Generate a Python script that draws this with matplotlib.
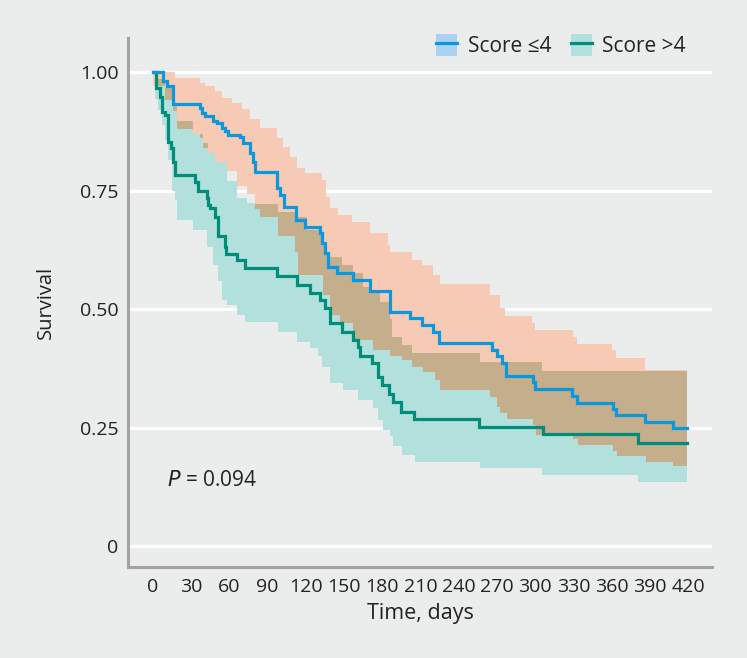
import numpy as np
import matplotlib
matplotlib.use("Agg")
import matplotlib.pyplot as plt
from matplotlib.patches import Patch
from matplotlib.lines import Line2D

plt.rcParams['font.family'] = ['Open Sans', 'DejaVu Sans']

# ---------------- data ----------------
end_time = 419

# Score <=4 : Kaplan-Meier estimate
le4_t = [0, 8.1, 10.8, 16, 37, 38.5, 41, 47, 50, 54, 56.5, 59, 68.3, 71, 76, 78.5, 80, 97, 100, 103,
         112, 119, 131, 133, 135, 137, 144.5, 157, 170, 186, 201.6, 211, 220, 224.5, 266, 270, 274, 277, 298, 300,
         329, 333, 361, 363.5, 386, 408]
le4_s = [1.0, 0.98, 0.97, 0.933, 0.925, 0.914, 0.907, 0.897, 0.892, 0.882, 0.876, 0.868, 0.862, 0.851, 0.83, 0.81, 0.789, 0.755, 0.74, 0.716,
         0.688, 0.673, 0.660, 0.639, 0.618, 0.589, 0.575, 0.561, 0.537, 0.494, 0.480, 0.466, 0.452, 0.428, 0.413, 0.40, 0.386, 0.359, 0.345, 0.331,
         0.316, 0.302, 0.289, 0.276, 0.262, 0.248]
# Score <=4 : upper CI
le4_hi_t = [0, 17, 37, 41, 49, 54, 62, 70, 76, 84, 97, 102, 107.5, 113, 119, 132.6, 136, 139, 145, 156,
            170, 184.5, 186, 203, 211, 220, 225, 264.5, 272, 276, 297.5, 300, 329.4, 333, 360, 363.5, 386]
le4_hi = [1.0, 0.988, 0.977, 0.97, 0.96, 0.946, 0.935, 0.922, 0.90, 0.882, 0.861, 0.842, 0.82, 0.797, 0.787, 0.772, 0.736, 0.713, 0.698, 0.684,
          0.660, 0.635, 0.621, 0.603, 0.593, 0.572, 0.553, 0.53, 0.502, 0.485, 0.47, 0.456, 0.442, 0.426, 0.414, 0.396, 0.371]
# Score <=4 : lower CI
le4_lo_t = [0, 9.4, 16, 19, 31.4, 37, 39, 43, 49, 58, 66, 74, 80, 84, 98, 111.5, 114, 133.5, 139, 147,
            157, 173, 186, 195.5, 203, 212, 221, 225, 264.5, 270, 272, 278, 298, 301, 329.5, 333.5, 361, 364, 387, 408]
le4_lo = [0.97, 0.94, 0.918, 0.88, 0.87, 0.861, 0.84, 0.83, 0.81, 0.791, 0.76, 0.743, 0.71, 0.695, 0.653, 0.621, 0.572, 0.53, 0.487, 0.47,
          0.435, 0.414, 0.40, 0.392, 0.378, 0.367, 0.35, 0.329, 0.314, 0.293, 0.28, 0.267, 0.255, 0.234, 0.225, 0.213, 0.20, 0.19, 0.177, 0.169]

# Score >4 : Kaplan-Meier estimate
gt4_t = [0, 2.5, 5.5, 7, 9.4, 11.8, 14, 15.5, 17.3, 33, 35.3, 42.4, 43.2, 45, 48.7, 51, 56.5, 57.5, 66, 72,
         97, 113, 123, 131, 135, 139, 148, 157, 161, 162.5, 172, 176.6, 180, 185, 188, 195, 205, 256, 306, 381]
gt4_s = [1.0, 0.966, 0.948, 0.916, 0.91, 0.853, 0.84, 0.81, 0.783, 0.769, 0.749, 0.735, 0.72, 0.714, 0.695, 0.653, 0.631, 0.617, 0.603, 0.586,
         0.569, 0.551, 0.534, 0.518, 0.502, 0.470, 0.452, 0.435, 0.420, 0.400, 0.386, 0.357, 0.34, 0.32, 0.304, 0.283, 0.268, 0.252, 0.236, 0.218]
# Score >4 : upper CI
gt4_hi_t = [0, 4, 9.4, 16, 19, 31.4, 37, 39, 43, 49, 58, 66, 74, 80, 98, 111.5, 121, 132.6, 136.6, 148.4,
            157, 165, 170, 178, 186, 187.6, 195.5, 203, 256.7, 305]
gt4_hi = [1.0, 0.985, 0.966, 0.928, 0.897, 0.87, 0.869, 0.85, 0.83, 0.81, 0.77, 0.734, 0.724, 0.721, 0.705, 0.695, 0.667, 0.642, 0.61, 0.593,
          0.575, 0.547, 0.534, 0.515, 0.479, 0.442, 0.424, 0.407, 0.388, 0.37]
# Score >4 : lower CI
gt4_lo_t = [0, 1.6, 4, 7, 9.4, 12, 15, 17, 19, 31.4, 42.4, 47, 51, 54, 58, 66, 72, 98, 113, 123,
            129.5, 132.6, 139, 149, 161, 172.7, 176.6, 180.5, 186, 188.4, 195.5, 205.7, 256.7, 305, 380.7]
gt4_lo = [1.0, 0.943, 0.92, 0.888, 0.857, 0.814, 0.75, 0.73, 0.688, 0.667, 0.631, 0.593, 0.56, 0.52, 0.508, 0.487, 0.473, 0.452, 0.431, 0.417,
          0.40, 0.378, 0.344, 0.329, 0.308, 0.291, 0.266, 0.245, 0.232, 0.21, 0.192, 0.178, 0.164, 0.15, 0.136]

x_ticks = list(range(0, 421, 30))
y_ticks = [0, 0.25, 0.5, 0.75, 1.0]
y_tick_labels = ["0", "0.25", "0.50", "0.75", "1.00"]
legend_labels = ["Score \u22644", "Score >4"]
p_text = "0.094"

# ---------------- styling ----------------
bg = "#ebecec"
blue = "#0b98dd"
teal = "#008e7a"
orange_fill = "#f6cab4"
teal_fill = "#b2e0dd"
brown_fill = "#c5ae8b"
blue_patch = "#aad3f2"
spine_col = "#a3a3a3"
txt = "#222222"


def step_eval(t, v, grid):
    t = np.asarray(t, float)
    v = np.asarray(v, float)
    idx = np.searchsorted(t, grid, side="right") - 1
    idx = np.clip(idx, 0, len(v) - 1)
    return v[idx]


grid = np.unique(np.concatenate([le4_t, le4_hi_t, le4_lo_t, gt4_t, gt4_hi_t, gt4_lo_t, [end_time]]))
grid = grid[grid <= end_time]

a_lo = step_eval(le4_lo_t, le4_lo, grid)
a_hi = step_eval(le4_hi_t, le4_hi, grid)
b_lo = step_eval(gt4_lo_t, gt4_lo, grid)
b_hi = step_eval(gt4_hi_t, gt4_hi, grid)
ov_lo = np.maximum(a_lo, b_lo)
ov_hi = np.maximum(np.minimum(a_hi, b_hi), ov_lo)

fig = plt.figure(figsize=(7.47, 6.58), dpi=100, facecolor=bg)
ax = fig.add_axes([0.1714, 0.1383, 0.9532 - 0.1714, 0.9422 - 0.1383])
ax.set_facecolor(bg)

ax.fill_between(grid, a_lo, a_hi, step="post", color=orange_fill, lw=0, zorder=1)
ax.fill_between(grid, b_lo, b_hi, step="post", color=teal_fill, lw=0, zorder=2)
ax.fill_between(grid, ov_lo, ov_hi, step="post", color=brown_fill, lw=0, zorder=3)

ax.step(list(gt4_t) + [end_time], list(gt4_s) + [gt4_s[-1]], where="post", color=teal, lw=2.3, zorder=4,
        solid_joinstyle="miter")
ax.step(list(le4_t) + [end_time], list(le4_s) + [le4_s[-1]], where="post", color=blue, lw=2.3, zorder=5,
        solid_joinstyle="miter")

ax.set_xlim(-19.6, 438.8)
ax.set_ylim(-0.0443, 1.0717)
ax.set_xticks(x_ticks)
ax.set_yticks(y_ticks)
ax.set_yticklabels(y_tick_labels)
ax.tick_params(axis="both", length=0, labelsize=14, colors=txt)
ax.tick_params(axis="x", pad=8)
ax.tick_params(axis="y", pad=7)

ax.yaxis.grid(True, color="white", lw=2.3, zorder=0)
ax.xaxis.grid(False)
ax.set_axisbelow(True)

for s in ["top", "right"]:
    ax.spines[s].set_visible(False)
for s in ["left", "bottom"]:
    ax.spines[s].set_color(spine_col)
    ax.spines[s].set_linewidth(2.2)

ax.set_xlabel("Time, days", fontsize=15.5, color=txt, labelpad=5)
ax.set_ylabel("Survival", fontsize=14.5, color=txt, labelpad=17)

ax.text(11, 0.139, "$P$ = " + p_text, fontsize=15, color=txt, va="center", ha="left")

h1 = (Patch(facecolor=blue_patch, edgecolor="none"), Line2D([], [], color=blue, lw=2.3))
h2 = (Patch(facecolor=teal_fill, edgecolor="none"), Line2D([], [], color=teal, lw=2.3))
leg = ax.legend([h1, h2], legend_labels, loc="center right", bbox_to_anchor=(0.955, 0.985),
                ncol=2, frameon=False, fontsize=15, handlelength=1.0, handleheight=1.25,
                handletextpad=0.5, columnspacing=0.95, borderpad=0, borderaxespad=0)
for t in leg.get_texts():
    t.set_color(txt)

fig.savefig("out.png", dpi=100, facecolor=bg)
